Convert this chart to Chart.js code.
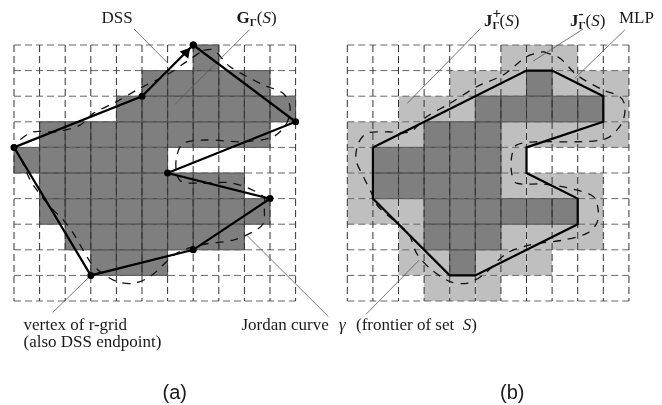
<!DOCTYPE html>
<html>
<head>
<meta charset="utf-8">
<title>DSS and MLP on an r-grid</title>
<script src="https://cdn.jsdelivr.net/npm/chart.js@4/dist/chart.umd.js"></script>
<style>
    html, body { margin: 0; padding: 0; background: #fff; }
    canvas { display: block; }
</style>
</head>
<body>
<canvas id="gridChart" width="662" height="405"></canvas>
<script>
// All values are in grid cells, counted from the top left corner of a panel
const gridCols = 11;
const gridRows = 10;
const panelBOffset = 13.02;

// Filled cells per row: [row, first col, last col]
const panelADark = [[0,7,7],[1,5,9],[2,4,10],[3,1,9],[4,0,5],[5,1,8],[6,1,9],[7,2,8],[8,3,5]];
const panelBLight = [[0,6,8],[1,4,6],[1,8,10],[2,2,4],[2,10,10],[3,0,2],[3,6,10],[4,0,0],[4,6,6],
    [5,0,0],[5,6,9],[6,0,2],[6,9,9],[7,2,2],[7,6,9],[8,2,3],[8,5,7],[9,3,5]];
const panelBDark = [[1,7,7],[2,5,9],[3,3,5],[4,1,5],[5,1,5],[6,3,8],[7,3,5],[8,4,4]];

// Polygons
const dssVertices = [[7,0],[11,3],[6,5],[10,6],[7,8],[3,9],[0,4],[5,2],[7,0]];
const mlpVertices = [[1,4],[7,1],[8,1],[10,2],[10,3],[7,4],[7,5],[9,6],[9,7],[5,9],[4,9],[1,6],[1,4]];
const dssArrow = [[6.72,0.3]];

// Jordan curve
const jordanA = [[7.4,0.2],[7.8,0.2],[8.44,0.85],[9.74,1.56],[10.52,1.89],[10.78,2.41],[10.65,3.06],
    [10.13,3.58],[8.96,3.78],[7.53,3.71],[6.61,3.84],[6.35,4.36],[6.35,5.01],[6.55,5.34],[7.27,5.4],
    [8.57,5.4],[9.74,5.92],[9.78,6.45],[9.74,6.97],[9.35,7.29],[8.57,7.62],[7.27,7.81],[6.35,8.14],
    [5.31,9.05],[4.66,9.31],[4.01,9.24],[3.36,8.85],[2.97,8.46],[2.32,7.36],[1.93,6.84],[1.41,6.32],
    [0.89,5.66],[0.63,5.27],[0.23,4.36],[0.04,3.97],[0.23,3.71],[0.76,3.39],[1.67,3.39],[2.58,3.13],
    [3.1,2.67],[4.01,2.21],[4.92,1.69],[5.96,1.17],[6.74,0.65],[7.4,0.2]];
const jordanB = [[7.66,0.26],[8.31,0.52],[8.96,1.17],[10,1.76],[10.65,2.02],[10.85,2.41],[10.72,3.06],
    [10.13,3.65],[8.96,3.78],[7.4,3.78],[6.61,3.91],[6.42,4.36],[6.42,5.01],[6.61,5.4],[7.66,5.43],
    [8.7,5.6],[9.61,5.92],[9.8,6.45],[9.74,6.97],[9.35,7.36],[8.44,7.62],[7.14,7.81],[6.22,8.14],
    [5.31,8.98],[4.66,9.31],[4.01,9.24],[3.23,8.73],[2.71,8.14],[2.38,7.36],[1.21,6.32],[0.95,5.79],
    [0.63,5.14],[0.34,4.49],[0.43,3.84],[0.76,3.45],[1.54,3.39],[2.45,3.39],[3.1,2.8],[4.01,2.28],
    [5.05,1.63],[6.09,1.17],[7,0.46],[7.66,0.26]];

// Leader lines from the labels
const leadersA = [[[4.69,-0.625],[6,0.7]],[[9.19,-0.59],[6.29,2.32]],[[3,9],[1.51,10.45]],[[9.11,7.45],[12.28,10.61]]];
const leadersB = [[[5.21,-0.65],[2.34,2.28]],[[9.21,-0.625],[7.26,0.63]],[[10.84,-0.59],[8.89,1.3]],[[2.81,8.4],[0.73,10.52]]];

const serif = '"Liberation Serif", serif';
const sans = '"Liberation Sans", sans-serif';
const body = '17px ' + serif;
const ital = 'italic 17px ' + serif;
const bold = 'bold 17px ' + serif;
const sub = 'bold 11px ' + serif;

// Text runs, written one after the other from x along baseline y
const textLabels = [
    { x: 101.5, y: 23, runs: [{ t: 'DSS', f: body }] },
    { x: 236.5, y: 23, runs: [{ t: 'G', f: bold }, { t: 'Γ', f: sub, dy: 3 }, { t: '(', f: body }, { t: 'S', f: ital }, { t: ')', f: body }] },
    { x: 23.5, y: 330, runs: [{ t: 'vertex of r-grid', f: body }] },
    { x: 23.5, y: 347, runs: [{ t: '(also DSS endpoint)', f: body }] },
    { x: 241.5, y: 330, runs: [{ t: 'Jordan curve', f: body }] },
    { x: 339, y: 330, runs: [{ t: 'γ', f: ital }] },
    { x: 356, y: 330, runs: [{ t: '(frontier of set  ', f: body }, { t: 'S', f: ital }, { t: ')', f: body }] },
    { x: 484, y: 26, runs: [{ t: 'J', f: bold }, { t: '+', f: 'bold 15px ' + serif, dy: -8, hold: true }, { t: 'Γ', f: sub, dy: 3 }, { t: '(', f: body }, { t: 'S', f: ital }, { t: ')', f: body }] },
    { x: 570, y: 26, runs: [{ t: 'J', f: bold }, { t: '-', f: 'bold 15px ' + serif, dy: -8, hold: true }, { t: 'Γ', f: sub, dy: 3 }, { t: '(', f: body }, { t: 'S', f: ital }, { t: ')', f: body }] },
    { x: 619, y: 23, runs: [{ t: 'MLP', f: body }] },
    { x: 162.5, y: 399, runs: [{ t: '(a)', f: '20px ' + sans }] },
    { x: 500, y: 399, runs: [{ t: '(b)', f: '20px ' + sans }] }
];

function toPoints(list, offset) {
    return list.map(p => ({ x: p[0] + offset, y: p[1] }));
}

function lineSet(points, color, width, dash, order, tension) {
    return {
        data: points,
        showLine: true,
        borderColor: color,
        borderWidth: width,
        borderDash: dash || [],
        pointRadius: 0,
        tension: tension || 0,
        order: order
    };
}

function gridSets(offset) {
    const sets = [];
    for (let c = 0; c <= gridCols; c++) {
        sets.push(lineSet(toPoints([[c, 0], [c, gridRows]], offset), '#333', 1, [7, 4], 5));
    }
    for (let r = 0; r <= gridRows; r++) {
        sets.push(lineSet(toPoints([[0, r], [gridCols, r]], offset), '#666', 1, [7, 4], 5));
    }
    return sets;
}

// Draws the filled cells under the datasets, through the chart's scales
const cellPlugin = {
    id: 'cells',
    beforeDatasetsDraw(chart) {
        const { ctx, scales: { x, y } } = chart;
        function fillCells(rows, offset, color) {
            rows.forEach(([row, from, to]) => {
                for (let c = from; c <= to; c++) {
                    const left = x.getPixelForValue(c + offset);
                    const right = x.getPixelForValue(c + 1 + offset);
                    const top = y.getPixelForValue(row);
                    const bottom = y.getPixelForValue(row + 1);
                    ctx.fillStyle = color;
                    ctx.fillRect(left, top, right - left, bottom - top);
                }
            });
        }
        ctx.save();
        fillCells(panelBLight, panelBOffset, '#bfbfbf');
        fillCells(panelADark, 0, '#7f7f7f');
        fillCells(panelBDark, panelBOffset, '#7f7f7f');
        // Grid lines run solid across the dark cells
        function edgeCells(rows, offset) {
            rows.forEach(([row, from, to]) => {
                for (let c = from; c <= to; c++) {
                    const left = x.getPixelForValue(c + offset);
                    const right = x.getPixelForValue(c + 1 + offset);
                    const top = y.getPixelForValue(row);
                    const bottom = y.getPixelForValue(row + 1);
                    ctx.strokeRect(left, top, right - left, bottom - top);
                }
            });
        }
        ctx.strokeStyle = '#4d4d4d';
        ctx.lineWidth = 1;
        edgeCells(panelADark, 0);
        edgeCells(panelBDark, panelBOffset);
        ctx.restore();
    }
};

const textPlugin = {
    id: 'texts',
    afterDraw(chart) {
        const ctx = chart.ctx;
        ctx.save();
        ctx.fillStyle = '#1a1a1a';
        ctx.textBaseline = 'alphabetic';
        textLabels.forEach(label => {
            let pos = label.x;
            label.runs.forEach(run => {
                ctx.font = run.f;
                ctx.fillText(run.t, pos, label.y + (run.dy || 0));
                if (!run.hold) pos += ctx.measureText(run.t).width;
            });
        });
        ctx.restore();
    }
};

document.addEventListener('DOMContentLoaded', function() {
    const datasets = [
        ...gridSets(0),
        ...gridSets(panelBOffset),
        lineSet(toPoints(jordanA, 0), '#111', 1.3, [8, 7], 4, 0.3),
        lineSet(toPoints(jordanB, panelBOffset), '#111', 1.3, [8, 7], 4, 0.3),
        ...leadersA.map(l => lineSet(toPoints(l, 0), '#555', 0.8, [], 3)),
        ...leadersB.map(l => lineSet(toPoints(l, panelBOffset), '#555', 0.8, [], 3)),
        lineSet(toPoints(dssVertices, 0), '#000', 2.2, [], 2),
        lineSet(toPoints(mlpVertices, panelBOffset), '#000', 2.2, [], 2),
        {
            data: toPoints(dssVertices, 0),
            pointRadius: 3.5,
            pointBackgroundColor: '#000',
            pointBorderWidth: 0,
            order: 1
        },
        {
            data: toPoints(dssArrow, 0),
            pointStyle: 'triangle',
            pointRotation: 40,
            pointRadius: 6.5,
            pointBackgroundColor: '#000',
            pointBorderWidth: 0,
            order: 1
        }
    ];

    new Chart(document.getElementById('gridChart').getContext('2d'), {
        type: 'scatter',
        data: { datasets: datasets },
        options: {
            responsive: false,
            animation: false,
            events: [],
            layout: { padding: 0, autoPadding: false },
            plugins: { legend: { display: false }, tooltip: { enabled: false } },
            scales: {
                x: { type: 'linear', display: false, bounds: 'data', min: -14 / 25.6, max: 648 / 25.6 },
                y: { type: 'linear', display: false, bounds: 'data', reverse: true, min: -45 / 25.6, max: 360 / 25.6 }
            }
        },
        plugins: [cellPlugin, textPlugin]
    });
});
</script>
</body>
</html>
